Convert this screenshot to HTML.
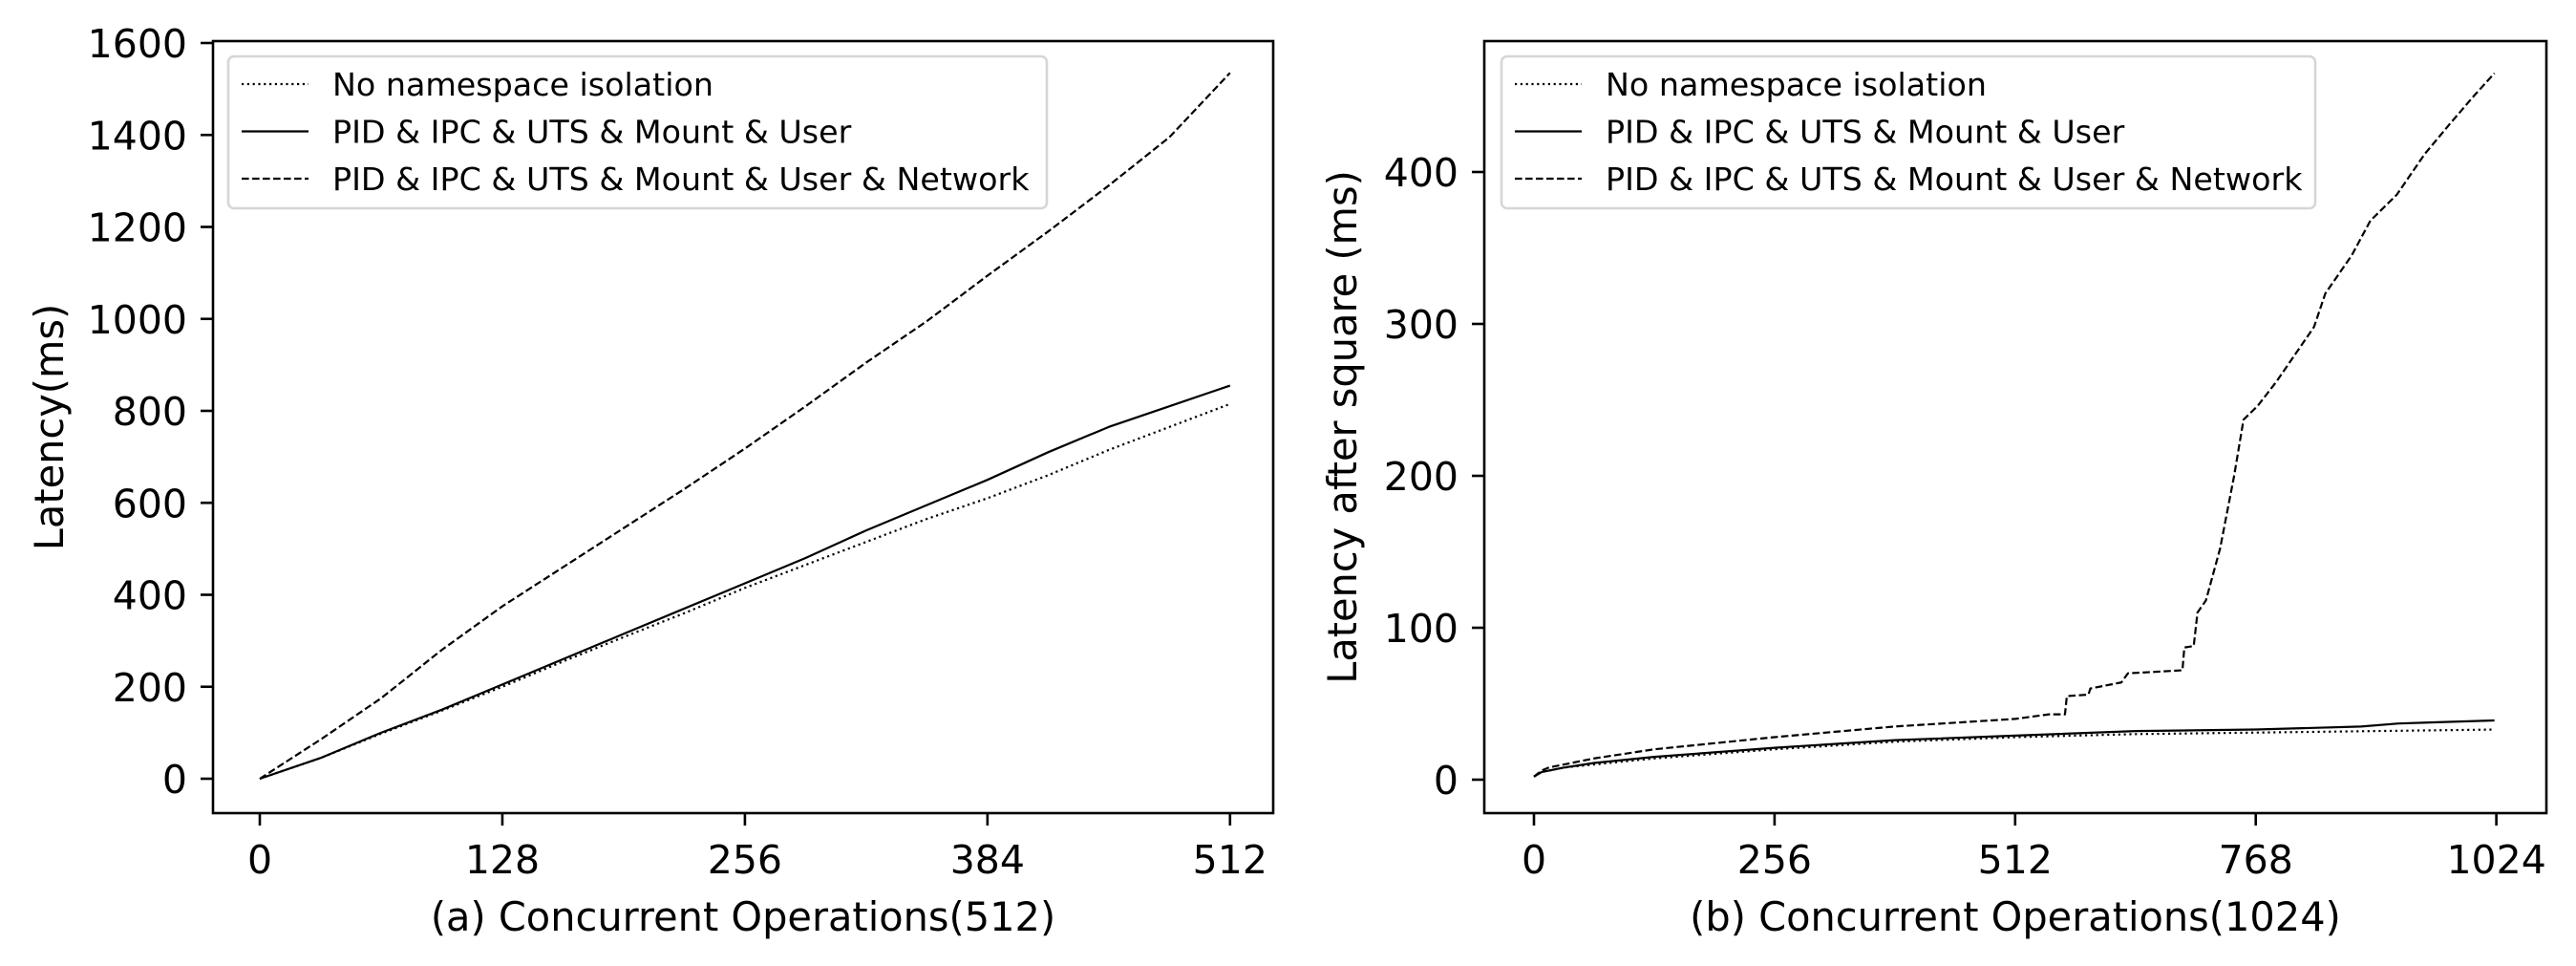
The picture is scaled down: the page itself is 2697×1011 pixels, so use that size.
<!DOCTYPE html>
<html><head><meta charset="utf-8"><style>
html,body{margin:0;padding:0;background:#fff;}
svg{display:block;font-family:"DejaVu Sans","Liberation Sans",sans-serif;}
</style></head><body>
<svg id="chart" width="2697" height="1011" viewBox="0 0 2697 1011" xmlns="http://www.w3.org/2000/svg"></svg>
<script>
// Panel (a) data
const aX = [0,32,64,96,128,160,192,224,256,288,320,352,384,416,448,480,512];
const aNone = [0,45,98,148,200,255,308,360,415,465,515,565,610,660,715,765,815];
const aNoNet = [0,45,100,150,205,260,315,370,425,480,540,595,650,710,765,810,855];
const aNet = [0,85,175,280,375,460,545,630,718,810,905,995,1094,1190,1290,1395,1535];
const aXTicks = [0,128,256,384,512];
const aYTicks = [0,200,400,600,800,1000,1200,1400,1600];
// Panel (b) data
const bNoneX = [0,8,32,64,128,192,256,384,512,640,768,896,1022];
const bNone = [2,5,8,10,14,17,20,25,28,30,31,32,33];
const bNoNetX = [0,8,32,64,128,192,256,384,512,640,768,880,920,1022];
const bNoNet = [2,5,8,11,15,18,21,26,29,32,33,35,37,39];
const bNetX = [0,8,16,64,128,192,256,384,512,548,565,567,590,592,625,632,690,692,702,706,715,730,745,755,770,790,810,830,842,870,890,918,948,975,1000,1022];
const bNet = [2,6,8,14,20,24,28,35,40,43,43,55,56,60,64,70,72,87,88,110,118,152,200,237,246,262,280,298,320,345,368,385,412,432,450,465];
const bXTicks = [0,256,512,768,1024];
const bYTicks = [0,100,200,300,400];

const NS="http://www.w3.org/2000/svg";
const svg=document.getElementById('chart');
function mk(tag,attrs,parent){const e=document.createElementNS(NS,tag);for(const k in attrs)e.setAttribute(k,attrs[k]);(parent||svg).appendChild(e);return e;}

function panel(cfg){
  const g=mk('g',{});
  
  
  const sx=v=>cfg.x0+v*cfg.kx, sy=v=>cfg.y0-v*cfg.ky;
  cfg.series.forEach(s=>{
    const p=mk('polyline',{points:s.x.map((v,i)=>sx(v)+','+sy(s.y[i])).join(' '),fill:'none',stroke:'#000','stroke-width':2.2,'stroke-dasharray':s.dash,'stroke-linejoin':'round'},g);
    
    
  });
  const fr=mk('rect',{x:cfg.L,y:cfg.T,width:cfg.R-cfg.L,height:cfg.B-cfg.T,fill:'none',stroke:'#000','stroke-width':2.6},g);
  
  
  cfg.xt.forEach(t=>{
    mk('line',{x1:sx(t),x2:sx(t),y1:cfg.B,y2:cfg.B+13,stroke:'#000','stroke-width':2.6},g);
    const tx=mk('text',{x:sx(t),y:cfg.B+63,'font-size':41,'text-anchor':'middle'},g);
    tx.textContent=t;
    
    
  });
  cfg.yt.forEach(t=>{
    mk('line',{x1:cfg.L-13,x2:cfg.L,y1:sy(t),y2:sy(t),stroke:'#000','stroke-width':2.6},g);
    const tx=mk('text',{x:cfg.L-27,y:sy(t)+15,'font-size':41,'text-anchor':'end'},g);
    tx.textContent=t;
    
    
  });
  const xl=mk('text',{x:(cfg.L+cfg.R)/2,y:974,'font-size':41.5,'text-anchor':'middle'},g);
  xl.textContent=cfg.xtitle;
  
  
  const yl=mk('text',{x:0,y:0,'font-size':41.5,'text-anchor':'middle',transform:`translate(${cfg.ytx},${(cfg.T+cfg.B)/2}) rotate(-90)`},g);
  yl.textContent=cfg.ytitle;
  
  
  const lg=mk('g',{},g);
  
  
  mk('rect',{x:cfg.lx,y:59,width:cfg.lw,height:159,rx:6,fill:'#fff','fill-opacity':0.8,stroke:'#d6d6d6','stroke-width':2.6},lg);
  const labels=['No namespace isolation','PID & IPC & UTS & Mount & User','PID & IPC & UTS & Mount & User & Network'];
  const dashes=['2.2,3.6','none','7.6,3.4'];
  labels.forEach((l,i)=>{
    const yy=88+i*49.5;
    const e=mk('g',{},lg);
    
    
    mk('line',{x1:cfg.lx+14,x2:cfg.lx+84,y1:yy,y2:yy,stroke:'#000','stroke-width':2.2,'stroke-dasharray':dashes[i]},e);
    const t=mk('text',{x:cfg.lx+109,y:yy+12,'font-size':33.3},e);
    t.textContent=l;
  });
}

panel({name:'panel-a',L:223,R:1333,T:43,B:851,x0:272,kx:1.984,y0:815,ky:0.48125,
  xt:aXTicks,yt:aYTicks,xtitle:'(a) Concurrent Operations(512)',ytitle:'Latency(ms)',ytx:66,
  lx:239,lw:857,
  series:[{name:'series-no-isolation',x:aX,y:aNone,dash:'2.2,3.6'},
          {name:'series-without-network',x:aX,y:aNoNet,dash:'none'},
          {name:'series-with-network',x:aX,y:aNet,dash:'7.6,3.4'}]});
panel({name:'panel-b',L:1554,R:2666,T:43,B:851,x0:1606,kx:0.984,y0:816,ky:1.59,
  xt:bXTicks,yt:bYTicks,xtitle:'(b) Concurrent Operations(1024)',ytitle:'Latency after square (ms)',ytx:1420,
  lx:1572,lw:852,
  series:[{name:'series-no-isolation',x:bNoneX,y:bNone,dash:'2.2,3.6'},
          {name:'series-without-network',x:bNoNetX,y:bNoNet,dash:'none'},
          {name:'series-with-network',x:bNetX,y:bNet,dash:'7.6,3.4'}]});
</script>
</body></html>
